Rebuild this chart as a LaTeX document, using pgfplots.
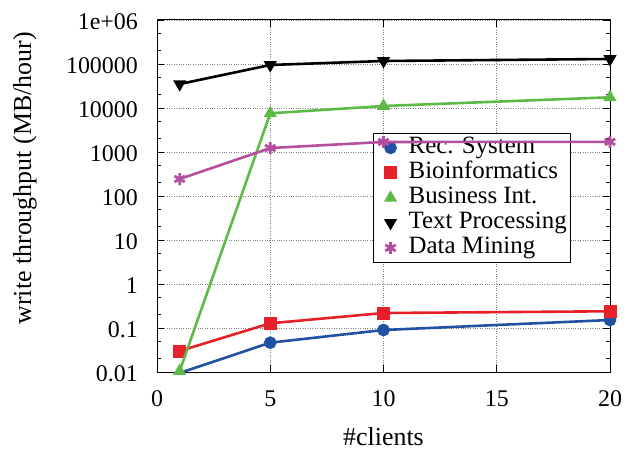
\documentclass[border=0pt]{standalone}
\usepackage{pgfplots}
\pgfplotsset{compat=1.18}
\usepackage{fontspec}
\setmainfont{Liberation Serif}
\newfontfamily\serifTNR{Liberation Serif}

\definecolor{recblue}{HTML}{2151A3}
\definecolor{bioRed}{HTML}{E8202A}
\definecolor{busGreen}{HTML}{5BBB46}
\definecolor{dmPurple}{HTML}{B2509E}

\begin{document}
\begin{tikzpicture}[font=\serifTNR\fontsize{24}{28}\selectfont]
\begin{axis}[
  set layers,
  scale only axis,
  width=453bp, height=352bp,
  ymode=log,
  xmin=0, xmax=20,
  ymin=0.01, ymax=1e6,
  xtick={0,5,10,15,20},
  ytick={0.01,0.1,1,10,100,1000,10000,100000,1000000},
  yticklabels={0.01,0.1,1,10,100,1000,10000,100000,1e+06},
  minor ytick={0.02,0.05,0.2,0.5,2,5,20,50,200,500,2000,5000,20000,50000,200000,500000},
  /pgf/number format/assume math mode=true,
  tick style={black, line width=0.6pt},
  tick align=inside,
  major tick length=7bp,
  minor tick length=4bp,
  axis line style={line width=1pt},
  grid=major,
  major grid style={gray, dotted, line width=0.8pt},
  xlabel={\#clients},
  ylabel={write throughput (MB/hour)},
  every axis x label/.style={at={(axis description cs:0.5,0)}, anchor=base, yshift=-73bp},
  every axis y label/.style={at={(axis description cs:-0.2914,0.55)}, rotate=90, anchor=center},
  xticklabel style={anchor=base, inner sep=0pt, yshift=-34bp},
  yticklabel style={anchor=east, inner sep=0pt, xshift=-19bp, yshift=-2bp},
  tick label style={font=\serifTNR\fontsize{24}{28}\selectfont},
  label style={font=\serifTNR\fontsize{26}{28}\selectfont},
  legend style={
    at={(0.477,0.679)}, anchor=north west,
    font=\serifTNR\fontsize{25}{25}\selectfont,
    draw=black, line width=0.8pt, fill=white,
    inner xsep=4bp, inner ysep=2bp, row sep=0pt,
    nodes={inner sep=0pt, text height=18bp, text depth=7bp},
    legend cell align=left,
  },
  legend image code/.code={%
    \path[draw=none, fill=none] (0cm,0cm) (1.1cm,0cm);
    \draw[#1] plot coordinates {(0.46cm,0cm)};},
  every axis plot/.append style={line width=2.6bp, /pgfplots/on layer=axis foreground},
  clip marker paths=true,
]
\addplot[recblue, mark=*, mark size=5bp] coordinates {
  (1,0.0095) (5,0.0464) (10,0.090) (20,0.152)};
\addlegendentry{Rec. System}
\addplot[bioRed, mark=square*, mark size=5.2bp] coordinates {
  (1,0.030) (5,0.128) (10,0.219) (20,0.240)};
\addlegendentry{Bioinformatics}
\addplot[busGreen, mark=triangle*, mark size=5bp] coordinates {
  (1,0.0105) (5,7570) (10,11100) (20,17500)};
\addlegendentry{Business Int.}
\addplot[black, mark=triangle*, mark size=5bp, mark options={rotate=180}] coordinates {
  (1,35000) (5,95000) (10,117000) (20,130000)};
\addlegendentry{Text Processing\hspace{19bp}}
\addplot[dmPurple, mark=asterisk, mark size=6bp, mark options={line width=2.8bp}] coordinates {
  (1,243) (5,1230) (10,1690) (20,1700)};
\addlegendentry{Data Mining}
\end{axis}
\pgfresetboundingbox
\path ([shift={(-157bp,-81bp)}]current axis.south west)
  rectangle ([shift={(16bp,20bp)}]current axis.north east);
\end{tikzpicture}
\end{document}
